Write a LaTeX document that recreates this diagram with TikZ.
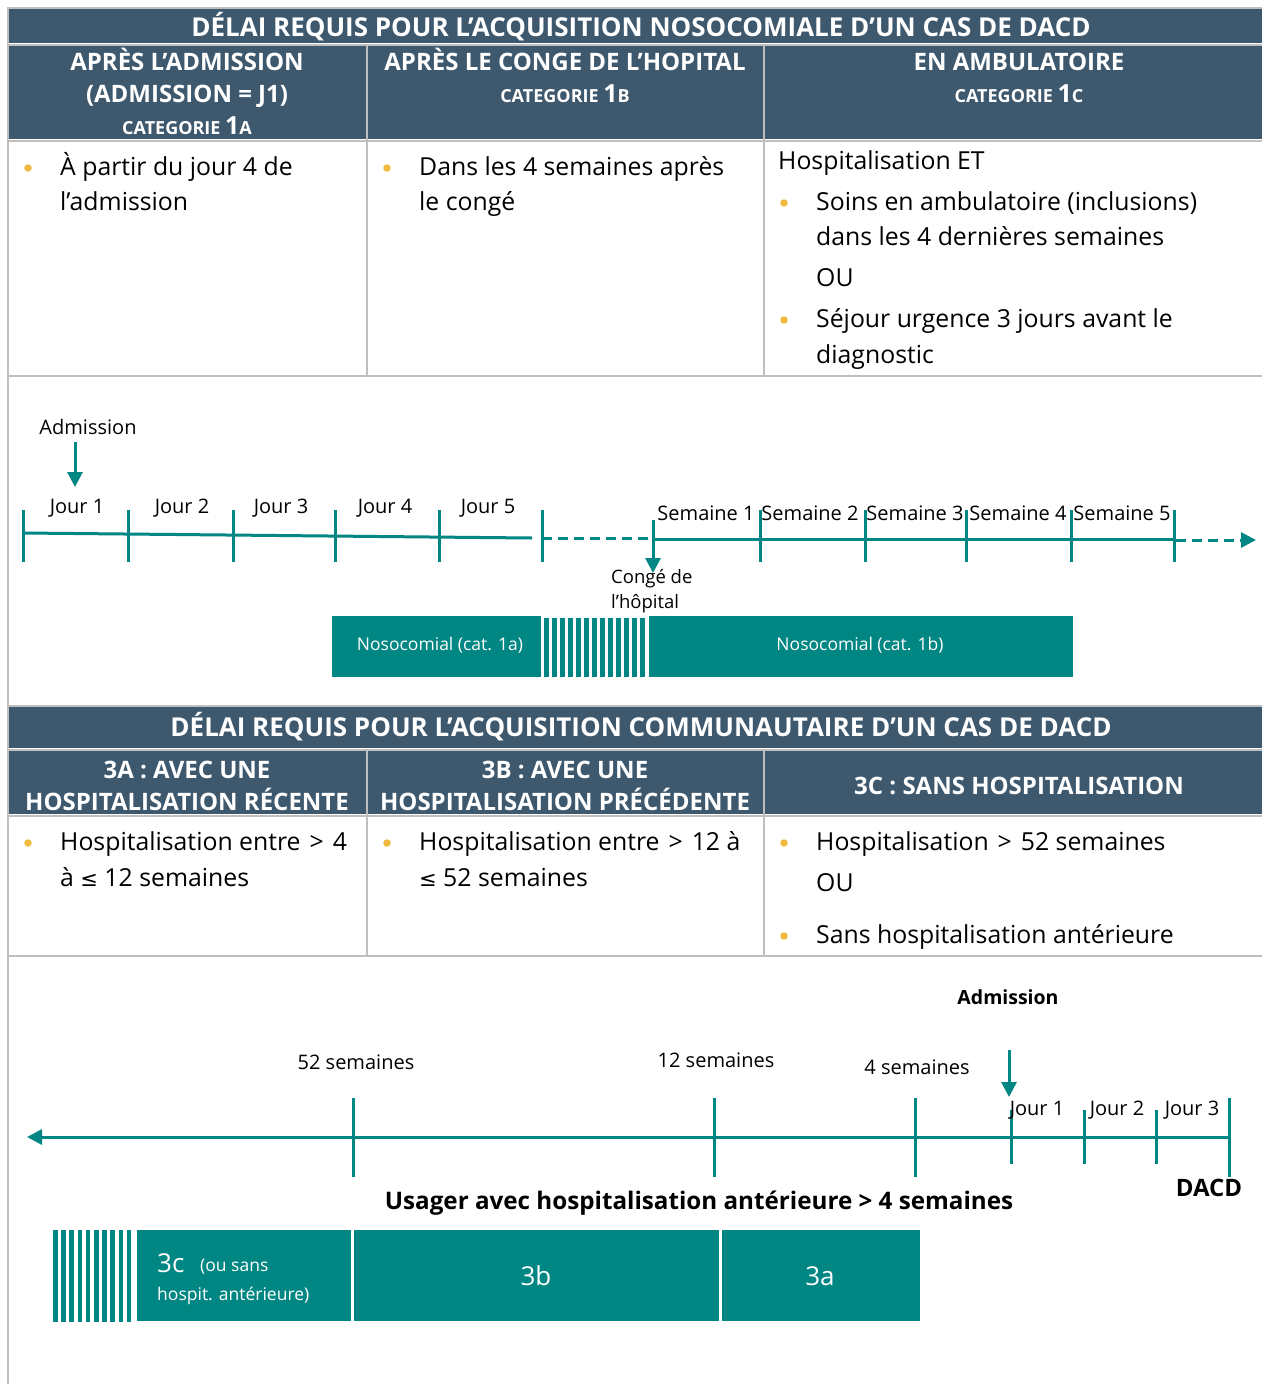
\documentclass[tikz,border=0pt]{standalone}
\usepackage{fontspec}
\setmainfont{Open Sans}
\newfontfamily\hdrf{Open Sans}
\newfontfamily\symf{DejaVu Sans}
\usetikzlibrary{arrows.meta}
\definecolor{hdr}{RGB}{62,88,110}
\definecolor{gridc}{RGB}{191,191,191}
\definecolor{tealc}{RGB}{0,134,131}
\definecolor{bul}{RGB}{240,185,64}
\tikzset{
  hdrtxt/.style={text=white, anchor=base, inner sep=0, font=\hdrf\bfseries\fontsize{24}{28}\selectfont},
  titletxt/.style={text=white, anchor=base, inner sep=0, font=\hdrf\bfseries\fontsize{26}{30}\selectfont},
  body/.style={anchor=base west, inner sep=0, font=\fontsize{24.8}{30}\selectfont},
  bulletdot/.style={circle, fill=bul, minimum size=7.5pt, inner sep=0},
  tl/.style={anchor=base, inner sep=0, font=\fontsize{20}{22}\selectfont},
  tlb/.style={anchor=base, inner sep=0, font=\bfseries\fontsize{19.5}{22}\selectfont},
  tick/.style={tealc, line width=3pt},
  axis/.style={tealc, line width=3pt},
  bar/.style={fill=tealc, draw=none},
  bartxt/.style={text=white, inner sep=0, font=\fontsize{17.5}{20}\selectfont},
  gline/.style={gridc, line width=2pt},
  tipd/.style={-{Triangle[width=15pt,length=15pt]}},
}
\newcommand{\catlbl}[2]{{\fontsize{18}{20}\selectfont CATEGORIE }{\fontsize{25}{28}\selectfont #1}{\fontsize{18}{20}\selectfont #2}}
\newcommand{\wsp}{\hspace{9pt}}
\begin{document}
\begin{tikzpicture}[x=1pt,y=-1pt]
\useasboundingbox (0,0) rectangle (1262,1384);
% ===== top table =====
\fill[hdr] (9,9) rectangle (1262,43);
\fill[hdr] (9,46) rectangle (366,139);
\fill[hdr] (368,46) rectangle (763,139);
\fill[hdr] (765,46) rectangle (1262,139);
\draw[gline] (8,8) -- (1262,8);
\draw[gline] (8,44.5) -- (1262,44.5);
\draw[gline] (8,140.5) -- (1262,140.5);
\draw[gline] (8,376) -- (1262,376);
\draw[gline] (8,7) -- (8,1384);
\draw[gline] (367,44) -- (367,376);
\draw[gline] (764,44) -- (764,376);
\node[titletxt] (t1) at (641,36) {DÉLAI REQUIS POUR L’ACQUISITION NOSOCOMIALE D’UN CAS DE DACD};
\node[hdrtxt] (h1a) at (187,70) {APRÈS L’ADMISSION};
\node[hdrtxt] (h1b) at (187,102) {(ADMISSION = J1)};
\node[hdrtxt] (h1c) at (187,134) {\catlbl{1}{A}};
\node[hdrtxt] (h2a) at (565,70) {APRÈS LE CONGE DE L’HOPITAL};
\node[hdrtxt] (h2b) at (565,102) {\catlbl{1}{B}};
\node[hdrtxt] (h3a) at (1019,70) {EN AMBULATOIRE};
\node[hdrtxt] (h3b) at (1019,102) {\catlbl{1}{C}};
% body
\node[bulletdot] (b1) at (28,168) {};
\node[body] (c1l1) at (60,175) {À partir du jour 4 de};
\node[body] (c1l2) at (60,210) {l’admission};
\node[bulletdot] (b2) at (387,168) {};
\node[body] (c2l1) at (419,175) {Dans les 4 semaines après};
\node[body] (c2l2) at (419,210) {le congé};
\node[body] (c3l0) at (778,169) {Hospitalisation ET};
\node[bulletdot] (b3) at (784,203) {};
\node[body] (c3l1) at (816,210) {Soins en ambulatoire (inclusions)};
\node[body] (c3l2) at (816,245) {dans les 4 dernières semaines};
\node[body] (c3l3) at (816,286) {OU};
\node[bulletdot] (b4) at (784,320) {};
\node[body] (c3l4) at (816,327) {Séjour urgence 3 jours avant le};
\node[body] (c3l5) at (816,363) {diagnostic};
% ===== timeline 1 =====
\node[tl] (adm1) at (88,434) {Admission};
\coordinate (adm1s) at (75,442);
\coordinate (adm1e) at (75,487);
\draw[axis,tipd] (adm1s) -- (adm1e);
\draw[axis] (23,533) -- (532,538);
\foreach \x in {23,128,233,335,439,542} \draw[tick] (\x,510) -- (\x,562);
\node[tl] (j1) at (77,513) {Jour 1};
\node[tl] (j2) at (182,513) {Jour 2};
\node[tl] (j3) at (281,513) {Jour 3};
\node[tl] (j4) at (385,513) {Jour 4};
\node[tl] (j5) at (488,513) {Jour 5};
\draw[axis,dash pattern=on 10pt off 6pt] (542,538) -- (652,538);
\draw[axis] (652,539.5) -- (1174,539.5);
\draw[axis,dash pattern=on 10pt off 6pt,tipd] (1176,540) -- (1256,540);
\foreach \x in {760,865,966,1071,1174} \draw[tick] (\x,510) -- (\x,562);
\node[tl] (s1) at (706,520) {Semaine 1};
\node[tl] (s2) at (810,520) {Semaine 2};
\node[tl] (s3) at (915,520) {Semaine 3};
\node[tl] (s4) at (1018,520) {Semaine 4};
\node[tl] (s5) at (1122,520) {Semaine 5};
\coordinate (cgs) at (653,520);
\coordinate (cge) at (653,573);
\draw[axis,tipd] (cgs) -- (cge);
\node[tl,anchor=base west,font=\fontsize{18.5}{22}\selectfont] (cg1) at (611,583) {Congé de};
\node[tl,anchor=base west,font=\fontsize{18.5}{22}\selectfont] (cg2) at (611,608) {l’hôpital};
% bars
\fill[bar] (332,616) rectangle (541,677);
\foreach \i in {0,...,12} \fill[tealc] (544+\i*8,618) rectangle ++(5,59);
\fill[bar] (649,616) rectangle (1073,677);
\node[bartxt] (n1a) at (440,645) {Nosocomial (cat. 1a)};
\node[bartxt] (n1b) at (860,645) {Nosocomial (cat. 1b)};
% ===== second table =====
\fill[hdr] (9,707) rectangle (1262,748);
\fill[hdr] (9,751) rectangle (366,814);
\fill[hdr] (368,751) rectangle (763,814);
\fill[hdr] (765,751) rectangle (1262,814);
\draw[gline] (8,706) -- (1262,706);
\draw[gline] (8,749.5) -- (1262,749.5);
\draw[gline] (8,815.5) -- (1262,815.5);
\draw[gline] (8,956) -- (1262,956);
\draw[gline] (367,749) -- (367,956);
\draw[gline] (764,749) -- (764,956);
\node[titletxt] (t2) at (641,736) {DÉLAI REQUIS POUR L’ACQUISITION COMMUNAUTAIRE D’UN CAS DE DACD};
\node[hdrtxt] (k1a) at (187,778) {3A : AVEC UNE};
\node[hdrtxt] (k1b) at (187,810) {HOSPITALISATION RÉCENTE};
\node[hdrtxt] (k2a) at (565,778) {3B : AVEC UNE};
\node[hdrtxt] (k2b) at (565,810) {HOSPITALISATION PRÉCÉDENTE};
\node[hdrtxt] (k3a) at (1019,794) {3C : SANS HOSPITALISATION};
\node[bulletdot] (d1) at (28,843) {};
\node[body] (e1l1) at (60,850) {Hospitalisation entre\wsp>\wsp4};
\node[body] (e1l2) at (60,886) {à {\symf\fontsize{21}{24}\selectfont ≤} 12 semaines};
\node[bulletdot] (d2) at (387,843) {};
\node[body] (e2l1) at (419,850) {Hospitalisation entre\wsp>\wsp12 à};
\node[body] (e2l2) at (419,886) {{\symf\fontsize{21}{24}\selectfont ≤} 52 semaines};
\node[bulletdot] (d3) at (784,843) {};
\node[body] (e3l1) at (816,850) {Hospitalisation\wsp>\wsp52 semaines};
\node[body] (e3l2) at (816,891) {OU};
\node[bulletdot] (d4) at (784,936) {};
\node[body] (e3l3) at (816,943) {Sans hospitalisation antérieure};
% ===== timeline 2 =====
\node[tlb] (adm2) at (1008,1004) {Admission};
\coordinate (adm2s) at (1009,1050);
\coordinate (adm2e) at (1009,1097);
\draw[axis,tipd] (adm2s) -- (adm2e);
\coordinate (ax2r) at (1229,1137);
\coordinate (ax2l) at (27,1137);
\draw[axis,tipd] (ax2r) -- (ax2l);
\foreach \x in {353,714,915} \draw[tick] (\x,1098) -- (\x,1177);
\draw[tick] (1229,1098) -- (1229,1177);
\foreach \x in {1011,1084,1156} \draw[tick] (\x,1110) -- (\x,1164);
\node[tl] (w52) at (356,1069) {52 semaines};
\node[tl] (w12) at (716,1067) {12 semaines};
\node[tl] (w4) at (917,1074) {4 semaines};
\node[tl] (k1) at (1037,1115) {Jour 1};
\node[tl] (k2) at (1117,1115) {Jour 2};
\node[tl] (k3) at (1192,1115) {Jour 3};
\node[anchor=base, inner sep=0, font=\bfseries\fontsize{24}{26}\selectfont] (dacd) at (1209,1196) {DACD};
\node[anchor=base, inner sep=0, font=\bfseries\fontsize{24.2}{28}\selectfont] (usg) at (699,1209) {Usager avec hospitalisation antérieure > 4 semaines};
\foreach \i in {0,...,9} \fill[tealc] (53+\i*8.2,1230) rectangle ++(4.5,92);
\fill[bar] (137,1230) rectangle (351,1321);
\fill[bar] (354,1230) rectangle (719,1321);
\fill[bar] (722,1230) rectangle (920,1321);
\node[bartxt,anchor=base west,font=\fontsize{26}{28}\selectfont] (b3c) at (157,1272) {3c};
\node[bartxt,anchor=base west] (b3c2) at (200,1271) {(ou sans};
\node[bartxt,anchor=base west] (b3c3) at (157,1300) {hospit. antérieure)};
\node[bartxt,font=\fontsize{26}{28}\selectfont] (b3b) at (536,1276) {3b};
\node[bartxt,font=\fontsize{26}{28}\selectfont] (b3a) at (820,1276) {3a};
\end{tikzpicture}
\end{document}
